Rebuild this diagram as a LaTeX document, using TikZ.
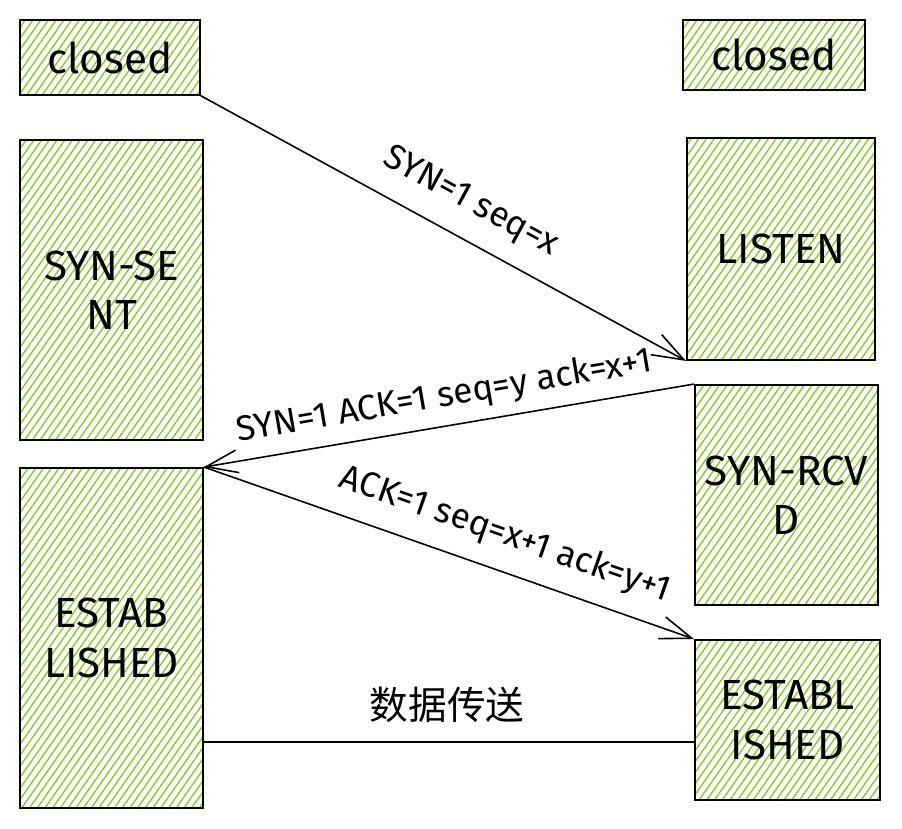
\documentclass[tikz,border=0pt]{standalone}
\usepackage{fontspec}
\setmainfont{Fira Sans}
\newfontfamily\cjk{Noto Sans CJK SC}
\usetikzlibrary{positioning,arrows.meta,patterns.meta}
\definecolor{hatchgreen}{RGB}{130,201,30}
\tikzset{
  state/.style={draw, line width=1.1pt, pattern={Lines[angle=55,distance=3.6pt,line width=0.75pt]},
    pattern color=hatchgreen, align=center, inner sep=0pt, font=\fontsize{24}{28}\selectfont},
  msg/.style={line width=0.9pt, -{Straight Barb[length=18pt,width=13pt,line width=0.9pt]}},
  msglabel/.style={sloped, inner sep=0pt, font=\fontsize{20}{22}\selectfont}
}

\begin{document}
\begin{tikzpicture}[x=0.02cm, y=-0.02cm]
  \useasboundingbox (0,0) rectangle (902,828);

  % Client states
  \node[state, minimum width=3.6cm, minimum height=1.5cm] (closedA) at (110,57.5) {closed};
  \node[state, minimum width=3.66cm, minimum height=6cm] (synsent) at (111.5,290) {SYN-SE\\NT};
  \node[state, minimum width=3.66cm, minimum height=6.8cm] (estA) at (111.5,638) {ESTAB\\LISHED};

  % Server states
  \node[state, minimum width=3.64cm, minimum height=1.4cm] (closedB) at (774,55) {closed};
  \node[state, minimum width=3.76cm, minimum height=4.44cm] (listen) at (781,249) {LISTEN};
  \node[state, minimum width=3.66cm, minimum height=4.4cm] (synrcvd) at (786.5,495) {SYN-RCV\\D};
  \node[state, minimum width=3.7cm, minimum height=3.2cm] (estB) at (787.5,720) {ESTABL\\ISHED};

  % Handshake
  \draw[msg] (closedA.south east) -- node[msglabel, pos=0.52, above=0.38cm] {SYN=1 seq=x} (listen.south west);
  \draw[msg] (synrcvd.north west) -- node[msglabel, above=0.22cm] {SYN=1 ACK=1 seq=y ack=x+1} (estA.north east);
  \draw[msg] (estA.north east) -- node[msglabel, pos=0.59, above=0.36cm] {ACK=1 seq=x+1 ack=y+1} (estB.north west);

  % Data transfer
  \draw[line width=0.9pt] ([yshift=-0.44cm]estB.west -| estA.east) -- ([yshift=-0.44cm]estB.west);
  \node[font=\cjk\fontsize{22}{26}\selectfont] (data) at (447,705) {数据传送};
\end{tikzpicture}
\end{document}
